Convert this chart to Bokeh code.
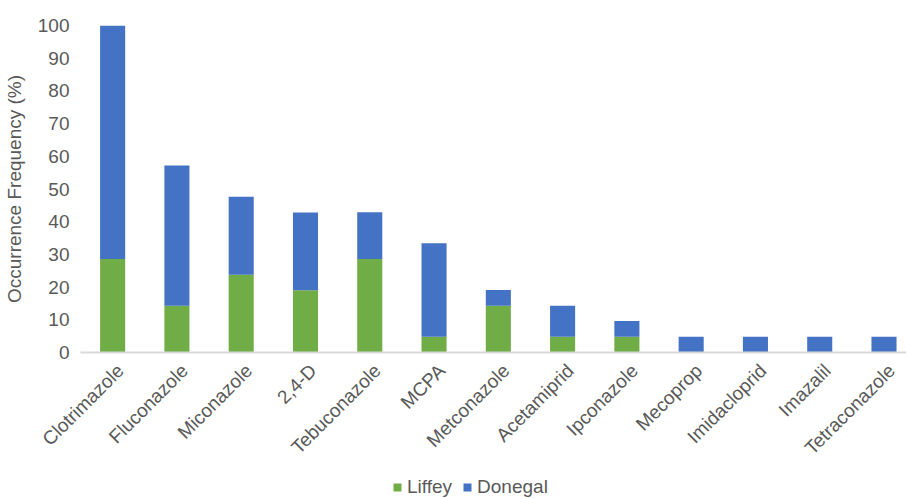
from bokeh.plotting import figure
from bokeh.models import ColumnDataSource, Range1d, Legend, LegendItem, FixedTicker
from bokeh.layouts import column
from bokeh.embed import file_html
from bokeh.resources import INLINE
import math

compounds = ["Clotrimazole", "Fluconazole", "Miconazole", "2,4-D", "Tebuconazole",
             "MCPA", "Metconazole", "Acetamiprid", "Ipconazole", "Mecoprop",
             "Imidacloprid", "Imazalil", "Tetraconazole"]
liffey = [28.6, 14.3, 23.8, 19.0, 28.6, 4.8, 14.3, 4.8, 4.8, 0.0, 0.0, 0.0, 0.0]
donegal = [71.4, 42.9, 23.8, 23.8, 14.3, 28.6, 4.8, 9.5, 4.8, 4.8, 4.8, 4.8, 4.8]
sites = ["Liffey", "Donegal"]
y_ticks = [0, 10, 20, 30, 40, 50, 60, 70, 80, 90, 100]

GREEN = "#70AD47"
BLUE = "#4472C4"
GREY_TEXT = "#595959"
FONT = "Liberation Sans"
colors = [GREEN, BLUE]

positions = list(range(len(compounds)))
source = ColumnDataSource(dict(pos=positions, compound=compounds,
                               Liffey=liffey, Donegal=donegal))

# ---- main chart -------------------------------------------------------------
# category slots are 1 unit wide; the last slot runs off the right edge
p = figure(width=906, height=470, output_backend="svg", toolbar_location=None,
           x_range=Range1d(-0.5, 12.35), y_range=Range1d(0, 100),
           min_border_left=80, min_border_right=0, min_border_top=25,
           min_border_bottom=118)
p.outline_line_color = None
p.background_fill_color = "white"
p.border_fill_color = "white"

p.vbar_stack(sites, x="pos", width=0.39, color=colors, line_color=None,
             source=source)

p.xgrid.grid_line_color = None
p.ygrid.grid_line_color = None

# y axis
p.yaxis.ticker = FixedTicker(ticks=y_ticks)
p.yaxis.axis_line_color = None
p.yaxis.major_tick_line_color = None
p.yaxis.minor_tick_line_color = None
p.yaxis.major_tick_out = 0
p.yaxis.major_tick_in = 0
p.yaxis.minor_tick_out = 0
p.yaxis.major_label_text_font = FONT
p.yaxis.major_label_text_font_size = "19px"
p.yaxis.major_label_text_color = GREY_TEXT
p.yaxis.major_label_standoff = 11
p.yaxis.axis_label = "Occurrence Frequency (%)"
p.yaxis.axis_label_text_font = FONT
p.yaxis.axis_label_text_font_size = "19px"
p.yaxis.axis_label_text_font_style = "normal"
p.yaxis.axis_label_text_color = GREY_TEXT
p.yaxis.axis_label_standoff = 10

# x axis: slanted names hang just right of each slot centre
label_at = [i + 0.12 for i in positions]
p.xaxis.ticker = FixedTicker(ticks=label_at)
p.xaxis.major_label_overrides = {t: name for t, name in zip(label_at, compounds)}
p.xaxis.axis_line_color = "#d9d9d9"
p.xaxis.axis_line_width = 2
p.xaxis.major_tick_line_color = None
p.xaxis.minor_tick_line_color = None
p.xaxis.major_tick_out = 0
p.xaxis.major_tick_in = 0
p.xaxis.minor_tick_out = 0
p.xaxis.major_label_orientation = math.pi / 4
p.xaxis.major_label_text_font = FONT
p.xaxis.major_label_text_font_size = "19px"
p.xaxis.major_label_text_color = GREY_TEXT
p.xaxis.major_label_standoff = 15

# ---- legend strip -----------------------------------------------------------
lg = figure(width=906, height=28, output_backend="svg", toolbar_location=None,
            x_range=Range1d(0, 1), y_range=Range1d(0, 1),
            x_axis_location=None, y_axis_location=None,
            min_border_left=0, min_border_right=0, min_border_top=0,
            min_border_bottom=0)
lg.outline_line_color = None
lg.xgrid.grid_line_color = None
lg.ygrid.grid_line_color = None
# key swatches: bars placed outside the strip's visible range
keys = [lg.vbar(x=[5], top=[1], width=0.4, color=c, line_color=None) for c in colors]

legend = Legend(items=[LegendItem(label=s, renderers=[r]) for s, r in zip(sites, keys)],
                orientation="horizontal", location=(312, 0),
                glyph_width=10, glyph_height=10, label_standoff=5, spacing=10,
                padding=0, margin=0, border_line_color=None,
                background_fill_alpha=0,
                label_text_font=FONT, label_text_font_size="19px",
                label_text_color=GREY_TEXT)
lg.add_layout(legend, "center")

layout = column(p, lg, spacing=0)
open("out.html", "w").write(file_html(layout, INLINE))
